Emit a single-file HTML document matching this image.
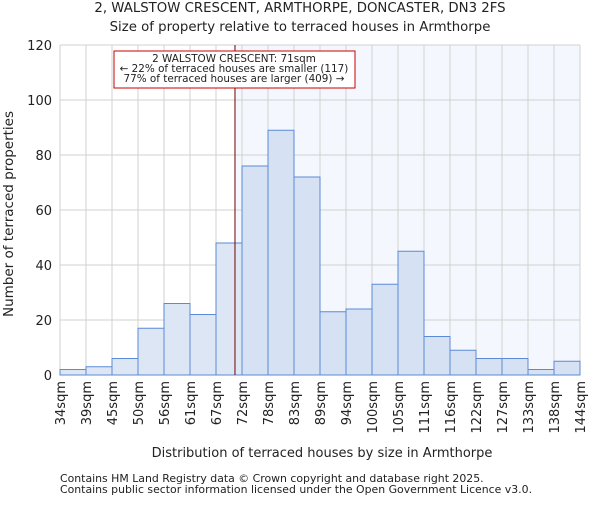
<!DOCTYPE html>
<html><head><meta charset="utf-8"><style>
body{margin:0;background:#fff;font-family:"Liberation Sans","DejaVu Sans",sans-serif;}
svg text{font-family:"DejaVu Sans","Liberation Sans",sans-serif;fill:#222;}
</style></head><body>
<svg id="chart" width="600" height="500">
<text x="300" y="12" font-size="13.3" text-anchor="middle">2, WALSTOW CRESCENT, ARMTHORPE, DONCASTER, DN3 2FS</text>
<text x="300" y="31" font-size="13.3" text-anchor="middle">Size of property relative to terraced houses in Armthorpe</text>
<g id="plot"></g>
<text x="322" y="457" font-size="13" text-anchor="middle">Distribution of terraced houses by size in Armthorpe</text>
<text transform="translate(13,214) rotate(-90)" font-size="13.5" text-anchor="middle">Number of terraced properties</text>
<text x="60" y="482" font-size="10.9">Contains HM Land Registry data © Crown copyright and database right 2025.</text>
<text x="60" y="493" font-size="10.9">Contains public sector information licensed under the Open Government Licence v3.0.</text>
</svg>
<script>
const categories=["34sqm","39sqm","45sqm","50sqm","56sqm","61sqm","67sqm","72sqm","78sqm","83sqm","89sqm","94sqm","100sqm","105sqm","111sqm","116sqm","122sqm","127sqm","133sqm","138sqm","144sqm"];
const counts=[2,3,6,17,26,22,48,76,89,72,23,24,33,45,14,9,6,6,2,5];
const yTicks=[0,20,40,60,80,100,120];
const markerIndex=6.73;
const NS="http://www.w3.org/2000/svg";
const g=document.getElementById("plot");
const X0=60,X1=580,Y0=375,Y1=45,YMAX=120;
const bw=(X1-X0)/counts.length;
const x=i=>X0+i*bw, y=v=>Y0-(v/YMAX)*(Y0-Y1);
function mk(t,a){const e=document.createElementNS(NS,t);for(const k in a)e.setAttribute(k,a[k]);g.appendChild(e);return e;}
let e=mk("rect",{x:x(markerIndex),y:Y1,width:X1-x(markerIndex),height:Y0-Y1,fill:"#f4f7fd"});


for(let i=0;i<=counts.length;i++){e=mk("line",{x1:x(i),x2:x(i),y1:Y1,y2:Y0,stroke:"#d0d0d0","stroke-width":1});

}
yTicks.forEach(t=>{e=mk("line",{x1:X0,x2:X1,y1:y(t),y2:y(t),stroke:"#d0d0d0"});


e=mk("text",{x:X0-8,y:y(t)+5,"font-size":13,"text-anchor":"end"});e.textContent=t;

});
counts.forEach((c,i)=>{e=mk("rect",{x:x(i),y:y(c),width:bw,height:Y0-y(c),fill:i<markerIndex-0.5?"#dde6f4":"#d6e1f3",stroke:"#5b8ad6","stroke-width":1});

});
categories.forEach((c,i)=>{e=mk("text",{transform:`translate(${x(i)+5},${Y0+6}) rotate(-90)`,"font-size":13,"text-anchor":"end"});e.textContent=c;

});
e=mk("line",{x1:x(markerIndex),x2:x(markerIndex),y1:Y1,y2:Y0,stroke:"#700000","stroke-width":1});


e=mk("rect",{x:114,y:51,width:241,height:37,fill:"#fff",stroke:"#c00","stroke-width":1});


[["2 WALSTOW CRESCENT: 71sqm",62],["← 22% of terraced houses are smaller (117)",72],["77% of terraced houses are larger (409) →",82]].forEach(([t,yy])=>{
e=mk("text",{x:234,y:yy,"font-size":10.4,"text-anchor":"middle"});e.textContent=t;

});
</script>
</body></html>
